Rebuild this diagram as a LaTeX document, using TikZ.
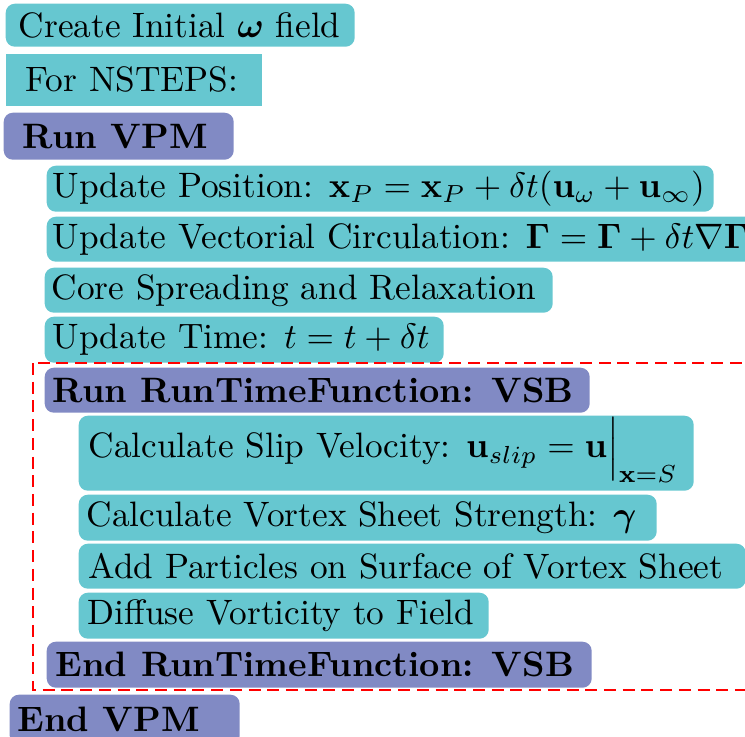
\documentclass[tikz,border=0pt]{standalone}
\usepackage{amsmath,amssymb,bm}
\definecolor{boxcyan}{RGB}{102,199,208}
\definecolor{boxpurple}{RGB}{129,138,196}
\newdimen\pxlen \pxlen=0.2833pt
\newcommand\boxtext[3]{\makebox[#1\pxlen][l]{\hspace*{#2\pxlen}#3}}
\tikzset{
  basebox/.style={anchor=north west, inner sep=0pt, font=\fontsize{10}{12}\selectfont},
  cbox/.style={basebox, fill=boxcyan, rounded corners=2.6pt},
  sbox/.style={basebox, fill=boxcyan},
  pbox/.style={basebox, fill=boxpurple, rounded corners=2.6pt, font=\fontsize{10}{12}\selectfont\bfseries},
  frame/.style={draw=red, line width=0.8pt, dash pattern=on 3.4pt off 1.9pt},
  ht/.style={minimum height=#1*\pxlen}
}
\begin{document}
\begin{tikzpicture}[x=\pxlen, y=-\pxlen]
\useasboundingbox (0,0) rectangle (745,736);
\clip (0,0) rectangle (745,736);
\node[cbox, ht=43] (create) at (5,3) {\boxtext{349}{13}{Create Initial $\boldsymbol{\omega}$ field}};
\node[sbox, ht=52] (for) at (5,53) {\boxtext{256}{20}{For NSTEPS:}};
\node[pbox, ht=47] (runvpm) at (3,112) {\boxtext{230}{19}{Run VPM}};
\node[cbox, ht=46] (updpos) at (46,165) {\boxtext{667}{6}{Update Position: $\mathbf{x}_P = \mathbf{x}_P + \delta t(\mathbf{u}_\omega + \mathbf{u}_\infty)$}};
\node[cbox, ht=45] (updcirc) at (46,216) {\boxtext{740}{6}{Update Vectorial Circulation: $\mathbf{\Gamma} = \mathbf{\Gamma} + \delta t \nabla \mathbf{\Gamma}$}};
\node[cbox, ht=45] (core) at (44,267) {\boxtext{508}{7}{Core Spreading and Relaxation}};
\node[cbox, ht=46] (updtime) at (44,316) {\boxtext{399}{8}{Update Time: $t = t + \delta t$}};
\node[pbox, ht=45] (runrtf) at (44,367) {\boxtext{545}{8}{Run RunTimeFunction: VSB}};
\node[cbox, ht=75, text height=11.9pt, text depth=9.35pt] (slip) at (78,415) {\boxtext{615}{10}{Calculate Slip Velocity: $\mathbf{u}_{slip} = \mathbf{u}\Big|_{\mathbf{x}=S}$}};
\node[cbox, ht=46] (sheet) at (78,494) {\boxtext{578}{8}{Calculate Vortex Sheet Strength: $\boldsymbol{\gamma}$}};
\node[cbox, ht=45] (addp) at (78,543) {\boxtext{667}{10}{Add Particles on Surface of Vortex Sheet}};
\node[cbox, ht=46] (diffuse) at (78,592) {\boxtext{410}{9}{Diffuse Vorticity to Field}};
\node[pbox, ht=46] (endrtf) at (46,641) {\boxtext{545}{9}{End RunTimeFunction: VSB}};
\node[pbox, ht=50] (endvpm) at (9,694) {\boxtext{230}{8}{End VPM}};
\coordinate (fa) at (33,363);
\coordinate (fb) at (790,690);
\draw[frame] (fa) rectangle (fb);
\end{tikzpicture}
\end{document}
